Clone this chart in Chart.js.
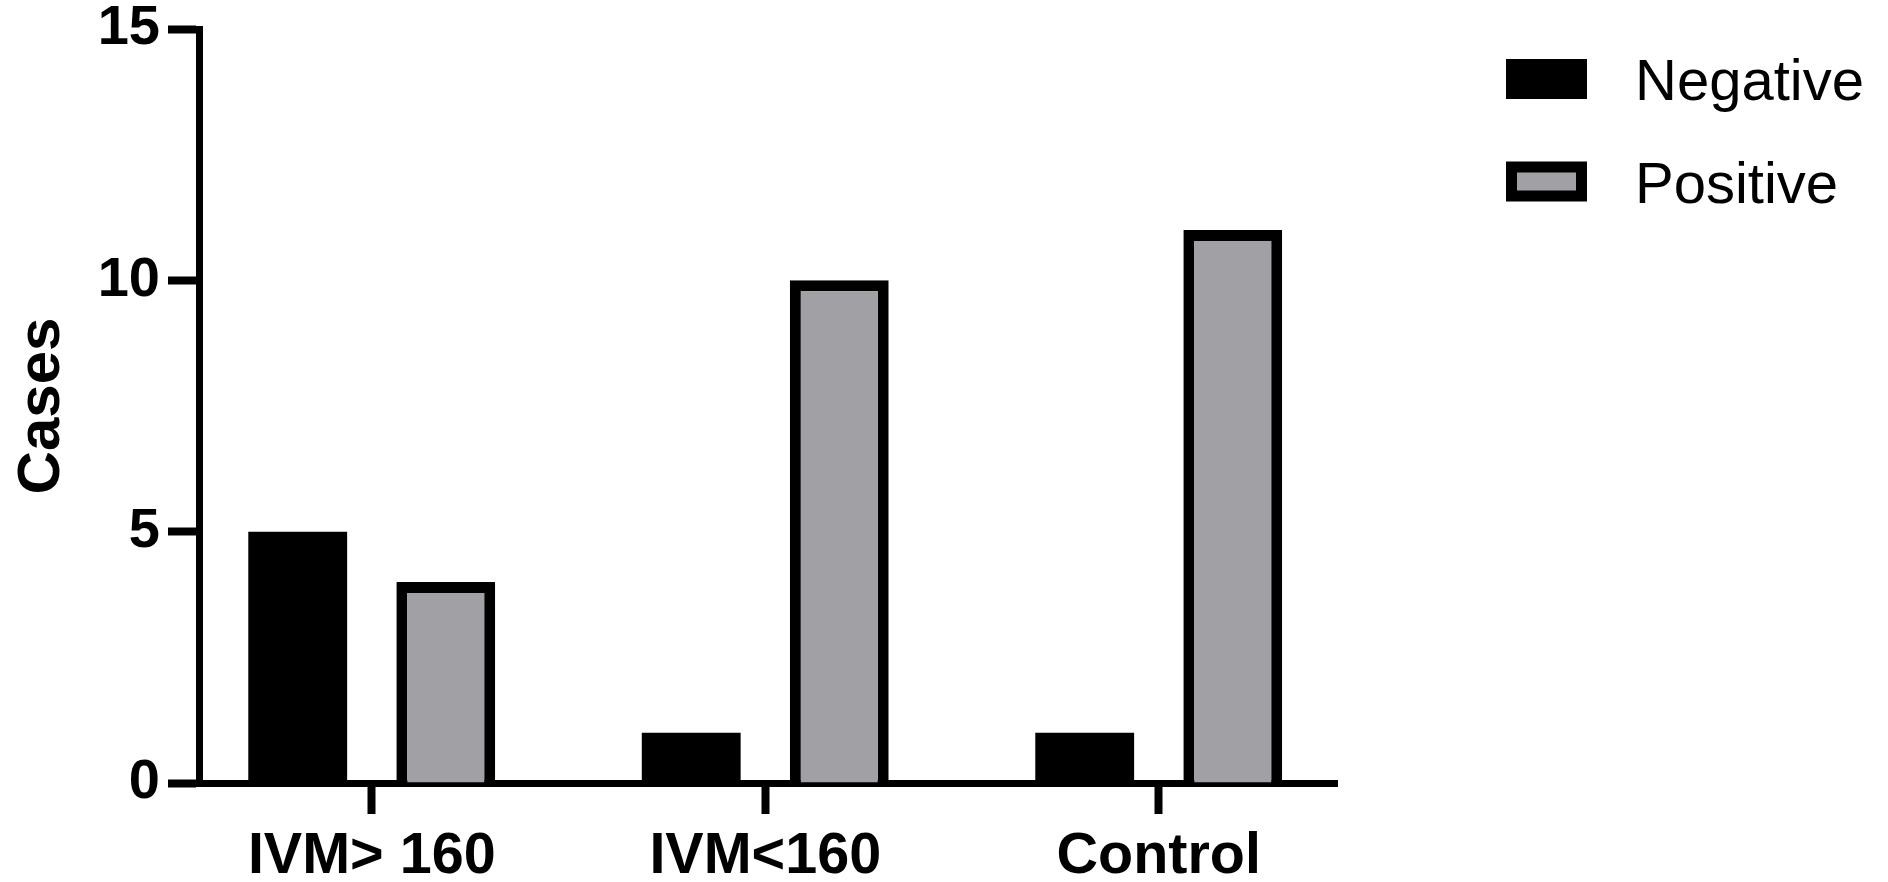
<!DOCTYPE html>
<html>
<head>
<meta charset="utf-8">
<script src="https://cdn.jsdelivr.net/npm/chart.js@4/dist/chart.umd.min.js"></script>
<style>
  html, body { margin: 0; padding: 0; background: #ffffff; }
  #c { display: block; }
</style>
</head>
<body>
<canvas id="c" width="1888" height="882"></canvas>
<script>
// ---- Data ----
const categories = ['IVM> 160', 'IVM<160', 'Control'];
const negativeValues = [5, 1, 1];
const positiveValues = [4, 10, 11];
const seriesNames = ['Negative', 'Positive'];
const yTickValues = [0, 5, 10, 15];
const yAxisTitle = 'Cases';

const FONT = "'Liberation Sans', Arial, Helvetica, sans-serif";
const GRAY = '#a1a0a5';

const toPoints = (vals) => vals.map((v, i) => ({ x: i, y: v }));

const sideLegend = {
  id: 'sideLegend',
  afterDraw(chart) {
    const ctx = chart.ctx;
    const boxX = 1506, boxW = 81, boxH = 40, firstY = 59, rowGap = 102.5, textX = 1635, bw = 11;
    chart.data.datasets.forEach((ds, i) => {
      const y = firstY + i * rowGap;
      ctx.save();
      ctx.fillStyle = ds.borderColor;
      ctx.fillRect(boxX, y, boxW, boxH);
      if (ds.backgroundColor !== ds.borderColor) {
        ctx.fillStyle = ds.backgroundColor;
        ctx.fillRect(boxX + bw, y + bw, boxW - 2 * bw, boxH - 2 * bw);
      }
      ctx.fillStyle = '#000';
      ctx.font = '58px ' + FONT;
      ctx.textBaseline = 'alphabetic';
      ctx.textAlign = 'left';
      ctx.fillText(ds.label, textX, y + 41);
      ctx.restore();
    });
  }
};

new Chart(document.getElementById('c'), {
  type: 'bar',
  data: {
    datasets: [
      {
        label: seriesNames[0],
        data: toPoints(negativeValues),
        backgroundColor: '#000000',
        borderColor: '#000000',
        borderWidth: 0
      },
      {
        label: seriesNames[1],
        data: toPoints(positiveValues),
        backgroundColor: GRAY,
        borderColor: '#000000',
        borderWidth: 11,
        borderSkipped: 'start'
      }
    ]
  },
  options: {
    responsive: false,
    devicePixelRatio: 1,
    animation: false,
    categoryPercentage: 0.7526,
    barPercentage: 0.6676,
    layout: { padding: { top: 29, right: 551, bottom: 0, left: 0 } },
    plugins: {
      legend: { display: false },
      tooltip: { enabled: false }
    },
    scales: {
      x: {
        type: 'linear',
        min: -0.439,
        max: 2.453,
        offset: false,
        z: 1,
        afterBuildTicks(scale) {
          scale.ticks = categories.map((_, i) => ({ value: i }));
        },
        afterFit(scale) {
          scale.height = 99;
          scale.paddingLeft = 0;
          scale.paddingRight = 0;
        },
        ticks: {
          autoSkip: false,
          maxRotation: 0,
          minRotation: 0,
          padding: 14,
          color: '#000',
          font: { family: FONT, size: 57.5, weight: 'bold', lineHeight: 1.0 },
          callback: (v) => categories[v]
        },
        grid: {
          display: true,
          offset: false,
          drawOnChartArea: false,
          drawTicks: true,
          tickLength: 31,
          tickWidth: 8,
          tickColor: '#000'
        },
        border: { display: true, color: '#000', width: 7 }
      },
      y: {
        min: 0,
        max: 15,
        z: 1,
        afterBuildTicks(scale) {
          scale.ticks = yTickValues.map(v => ({ value: v }));
        },
        afterFit(scale) {
          scale.width = 199;
          scale.paddingTop = 0;
          scale.paddingBottom = 0;
        },
        ticks: {
          padding: 8,
          color: '#000',
          font: { family: FONT, size: 56, weight: 'bold', lineHeight: 1.0 }
        },
        grid: {
          display: true,
          drawOnChartArea: false,
          drawTicks: true,
          tickLength: 31,
          tickWidth: 8,
          tickColor: '#000'
        },
        border: { display: true, color: '#000', width: 7 },
        title: {
          display: true,
          text: yAxisTitle,
          color: '#000',
          padding: { top: 6, bottom: 0 },
          font: { family: FONT, size: 60, weight: 'bold', lineHeight: 1.2 }
        }
      }
    }
  },
  plugins: [sideLegend]
});
</script>
</body>
</html>
